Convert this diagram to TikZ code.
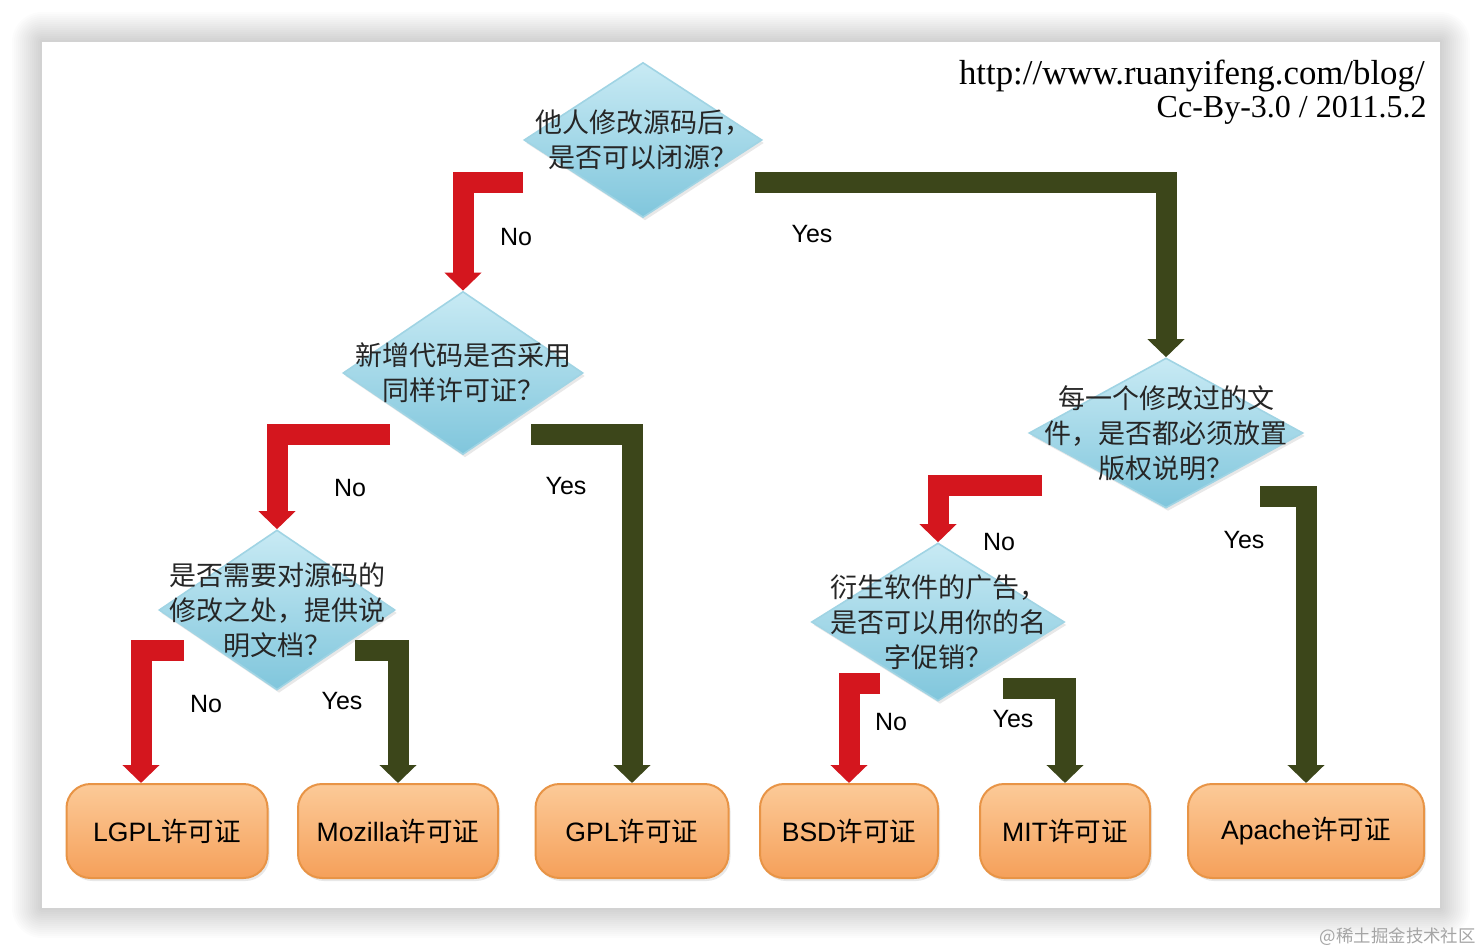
\documentclass[tikz,border=0pt]{standalone}
\usepackage{fontspec}
\setmainfont{Liberation Sans}
\newfontfamily\cjk{Noto Sans CJK SC}
\newfontfamily\siteserif{Liberation Serif}
\usepackage{tikz}
\usetikzlibrary{arrows.meta,shapes.geometric,shadows}
\definecolor{NoRed}{RGB}{212,22,30}
\definecolor{YesOlive}{RGB}{60,70,26}
\definecolor{DiaTop}{RGB}{200,234,244}
\definecolor{DiaBottom}{RGB}{128,198,220}
\definecolor{DiaEdge}{RGB}{160,212,228}
\definecolor{BoxTop}{RGB}{252,202,152}
\definecolor{BoxBottom}{RGB}{245,160,90}
\definecolor{BoxEdge}{RGB}{232,148,70}
\definecolor{MarkGray}{RGB}{165,165,165}
\tikzset{
  question/.style={diamond,draw=DiaEdge,line width=0.8pt,
    top color=DiaTop,bottom color=DiaBottom,inner sep=0pt,
    drop shadow={opacity=0.18,shadow xshift=1pt,shadow yshift=-1.5pt}},
  qtext/.style={font=\cjk\fontsize{13.5}{17.5}\selectfont,
    align=center,text=black!85,inner sep=0pt},
  licence/.style={rounded corners=12pt,draw=BoxEdge,line width=1pt,
    top color=BoxTop,bottom color=BoxBottom,minimum height=47pt,
    font=\fontsize{13.3}{15}\selectfont,
    drop shadow={opacity=0.18,shadow xshift=1pt,shadow yshift=-1.5pt}},
  noarrow/.style={draw=NoRed,line width=10.5pt,line join=miter,
    -{Triangle[width=18pt,length=9pt]}},
  yesarrow/.style={draw=YesOlive,line width=10.5pt,line join=miter,
    -{Triangle[width=18pt,length=9pt]}},
  answer/.style={font=\fontsize{12.5}{14}\selectfont}
}

\begin{document}
\begin{tikzpicture}[x=0.5pt,y=-0.5pt]
  \useasboundingbox (0,0) rectangle (1482,951);
  \fill[white] (0,0) rectangle (1482,951);
  % card and its soft shadow
  \foreach \k in {1,...,15}
    \fill[black,opacity=0.013,rounded corners={\k*1pt}]
      ({42-2*\k},{42-2*\k}) rectangle ({1440+2*\k},{908+2*\k});
  \fill[white] (42,42) rectangle (1440,908);

  % questions
  \node[question,minimum width=119pt,minimum height=77.5pt] (Qone) at (643,140) {};
  \node[question,minimum width=120pt,minimum height=81.5pt] (Qtwo) at (463,373) {};
  \node[question,minimum width=118pt,minimum height=80pt] (Qthree) at (277,610) {};
  \node[question,minimum width=137pt,minimum height=75pt] (Qfour) at (1166,433) {};
  \node[question,minimum width=126.5pt,minimum height=79pt] (Qfive) at (938,622) {};
  \node[qtext] (QoneT) at (Qone) {他人修改源码后，\\是否可以闭源？};
  \node[qtext] (QtwoT) at (Qtwo) {新增代码是否采用\\同样许可证？};
  \node[qtext] (QthreeT) at (Qthree) {是否需要对源码的\\修改之处，提供说\\明文档？};
  \node[qtext] (QfourT) at (Qfour) {每一个修改过的文\\件，是否都必须放置\\版权说明？};
  \node[qtext] (QfiveT) at (Qfive) {衍生软件的广告，\\是否可以用你的名\\字促销？};

  % licences
  \node[licence,minimum width=100.5pt] (LGPL) at (167,831) {LGPL{\cjk 许可证}};
  \node[licence,minimum width=100pt] (Mozilla) at (398,831) {Mozilla{\cjk 许可证}};
  \node[licence,minimum width=96.5pt] (GPL) at (632,831) {GPL{\cjk 许可证}};
  \node[licence,minimum width=89pt] (BSD) at (849,831) {BSD{\cjk 许可证}};
  \node[licence,minimum width=85pt] (MIT) at (1065,831) {MIT{\cjk 许可证}};
  \node[licence,minimum width=118pt] (Apache) at (1306,831) {Apache{\cjk 许可证}};

  % free ends of the bent arrows
  \coordinate (NoOne) at (523,183);
  \coordinate (YesOne) at (755,183);
  \coordinate (NoTwo) at (390,435);
  \coordinate (YesTwo) at (531,435);
  \coordinate (NoThree) at (184,650);
  \coordinate (YesThree) at (355,650);
  \coordinate (NoFour) at (1042,486);
  \coordinate (YesFour) at (1260,497);
  \coordinate (NoFive) at (880,683);
  \coordinate (YesFive) at (1003,688);

  \draw[noarrow] (NoOne) -| (Qtwo.north);
  \draw[yesarrow] (YesOne) -| (Qfour.north);
  \draw[noarrow] (NoTwo) -| (Qthree.north);
  \draw[yesarrow] (YesTwo) -| (GPL.north);
  \draw[noarrow] (NoThree) -| ([xshift=-13pt]LGPL.north);
  \draw[yesarrow] (YesThree) -| (Mozilla.north);
  \draw[noarrow] (NoFour) -| (Qfive.north);
  \draw[yesarrow] (YesFour) -| (Apache.north);
  \draw[noarrow] (NoFive) -| (BSD.north);
  \draw[yesarrow] (YesFive) -| (MIT.north);

  \node[answer] (NoOneL) at (516,237) {No};
  \node[answer] (YesOneL) at (812,234) {Yes};
  \node[answer] (NoTwoL) at (350,488) {No};
  \node[answer] (YesTwoL) at (566,486) {Yes};
  \node[answer] (NoThreeL) at (206,704) {No};
  \node[answer] (YesThreeL) at (342,701) {Yes};
  \node[answer] (NoFourL) at (999,542) {No};
  \node[answer] (YesFourL) at (1244,540) {Yes};
  \node[answer] (NoFiveL) at (891,722) {No};
  \node[answer] (YesFiveL) at (1013,719) {Yes};

  \node[font=\siteserif\fontsize{17.4}{19}\selectfont,anchor=base east,inner sep=0pt]
    (SiteA) at (1425,85) {http://www.ruanyifeng.com/blog/};
  \node[font=\siteserif\fontsize{16}{19}\selectfont,anchor=base east,inner sep=0pt]
    (SiteB) at (1427,118) {Cc-By-3.0 / 2011.5.2};
  \node[font=\cjk\fontsize{8.7}{10}\selectfont,text=MarkGray,anchor=base east,inner sep=0pt]
    (Mark) at (1476,942) {@稀土掘金技术社区};
\end{tikzpicture}
\end{document}
